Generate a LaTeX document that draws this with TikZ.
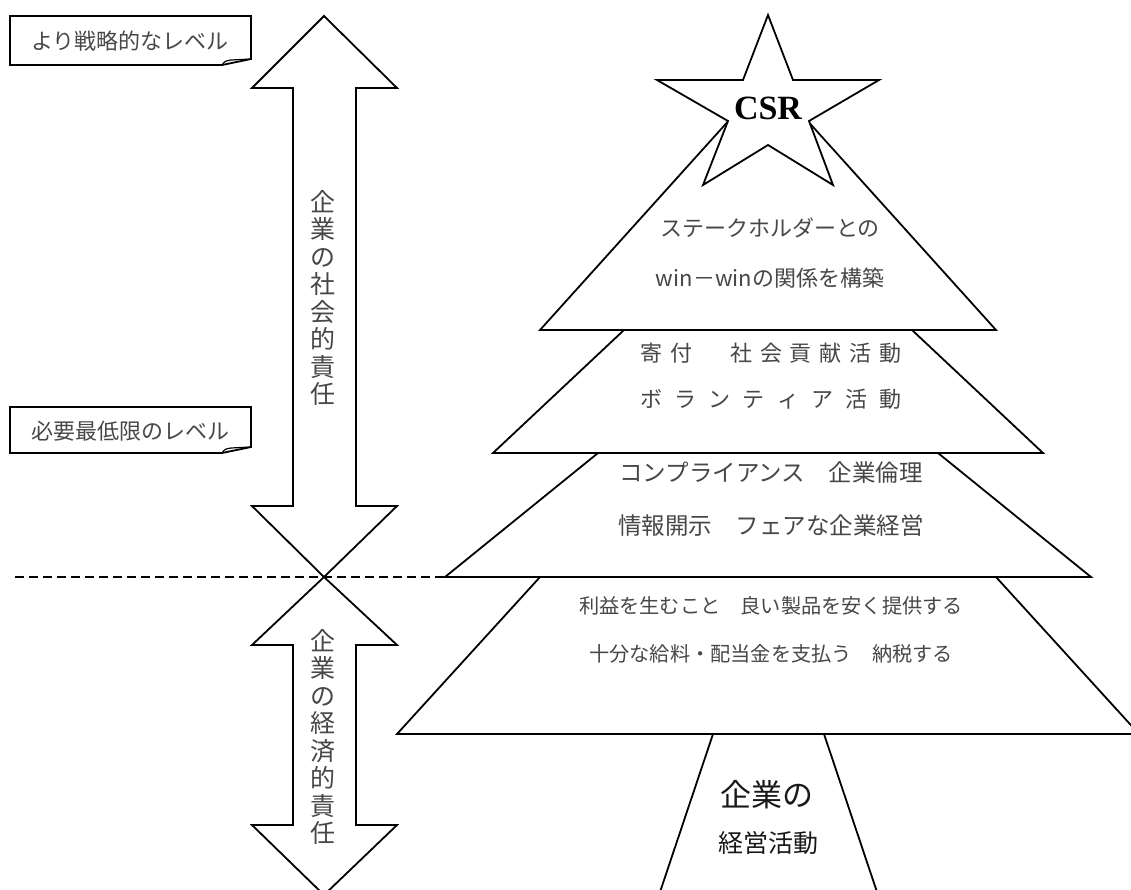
\documentclass[tikz,border=0pt]{standalone}
\usepackage{fontspec}
\newfontfamily\jp{Noto Sans CJK JP}
\newfontfamily\csrfont{Liberation Serif}
\newcommand\jslot[2]{\hbox to #1{\hss#2\hss}}
\newcommand\slA[1]{\jslot{29.9pt}{#1}}
\newcommand\slB[1]{\jslot{34.1pt}{#1}}
\begin{document}
\begin{tikzpicture}[x=1pt,y=-1pt,
  outl/.style={draw=black, line width=1.8pt, fill=white, line join=miter, miter limit=20},
  fold/.style={draw=black, line width=1.2pt, line join=miter},
  sep/.style={draw=black, line width=1.5pt, dash pattern=on 9pt off 5pt},
  notetxt/.style={inner sep=0pt, text=black!72, font=\jp\fontsize{22}{26}\selectfont},
  layertxt/.style={inner sep=0pt, text=black!72},
  verttxt/.style={inner sep=0pt, align=center, text=black!72, font=\jp\fontsize{25}{27.5}\selectfont},
  trunktxt/.style={inner sep=0pt, text=black!90}]
\useasboundingbox (0,0) rectangle (1131,889);

% notes
\draw[outl] (10,16) -- (251,16) -- (251,59) -- (222,65) -- (10,65) -- cycle;
\draw[fold] (222,65) .. controls (225,61) .. (231,60) -- (251,59);
\node[notetxt] (n1) at (130,41) {より戦略的なレベル};
\draw[outl] (10,407) -- (251,407) -- (251,447) -- (222,453) -- (10,453) -- cycle;
\draw[fold] (222,453) .. controls (225,449) .. (231,448) -- (251,447);
\node[notetxt] (n2) at (130,431) {必要最低限のレベル};

% double arrows
\draw[outl] (324,16) -- (397,88) -- (356,88) -- (356,506) -- (397,506) -- (324,577)
  -- (252,506) -- (293,506) -- (293,88) -- (252,88) -- cycle;
\draw[outl] (324,577) -- (397,645) -- (356,645) -- (356,825) -- (397,825) -- (324,895)
  -- (252,825) -- (293,825) -- (293,645) -- (252,645) -- cycle;
\node[verttxt] (v1) at (323,298) {企\\業\\の\\社\\会\\的\\責\\任};
\node[verttxt] (v2) at (323,737) {企\\業\\の\\経\\済\\的\\責\\任};

% tree
\draw[outl] (713,734) -- (824,734) -- (878,895) -- (659,895) -- cycle;
\draw[outl] (540,577) -- (996,577) -- (1139,734) -- (397,734) -- cycle;
\draw[outl] (598,453) -- (938,453) -- (1091,577) -- (445,577) -- cycle;
\draw[outl] (624,330) -- (912,330) -- (1043,453) -- (493,453) -- cycle;
\draw[outl] (768,77) -- (996,330) -- (540,330) -- cycle;
\draw[outl] (768,15) -- (793,80) -- (879,80) -- (809,121) -- (833,185) -- (768,145)
  -- (703,185) -- (728,121) -- (657,80) -- (743,80) -- cycle;

% dashed level line
\coordinate (dl) at (15,577);
\coordinate (dr) at (445,577);
\draw[sep] (dl) -- (dr);

% texts
\node[inner sep=0pt, font=\csrfont\bfseries\fontsize{34}{34}\selectfont] (csr) at (768,108) {CSR};
\node[layertxt, font=\jp\fontsize{22}{26}\selectfont] (l1a) at (770,228) {ステークホルダーとの};
\node[layertxt, font=\jp\fontsize{22}{26}\selectfont] (l1b) at (770,278) {win－winの関係を構築};
\node[layertxt, font=\jp\fontsize{22}{26}\selectfont] (l2a) at (771,353) {\slA{寄}\slA{付}\slA{}\slA{社}\slA{会}\slA{貢}\slA{献}\slA{活}\slA{動}};
\node[layertxt, font=\jp\fontsize{22}{26}\selectfont] (l2b) at (771,399) {\slB{ボ}\slB{ラ}\slB{ン}\slB{テ}\slB{ィ}\slB{ア}\slB{活}\slB{動}};
\node[layertxt, font=\jp\fontsize{23.5}{26}\selectfont] (l3a) at (771,473) {コンプライアンス　企業倫理};
\node[layertxt, font=\jp\fontsize{23.5}{26}\selectfont] (l3b) at (771,526) {情報開示　フェアな企業経営};
\node[layertxt, font=\jp\fontsize{20.2}{24}\selectfont] (l4a) at (771,606) {利益を生むこと　良い製品を安く提供する};
\node[layertxt, font=\jp\fontsize{20.2}{24}\selectfont] (l4b) at (771,654) {十分な給料・配当金を支払う　納税する};
\node[trunktxt, font=\jp\fontsize{31}{34}\selectfont] (t1) at (767,795) {企業の};
\node[trunktxt, font=\jp\fontsize{25}{28}\selectfont] (t2) at (768,843) {経営活動};
\end{tikzpicture}
\end{document}
